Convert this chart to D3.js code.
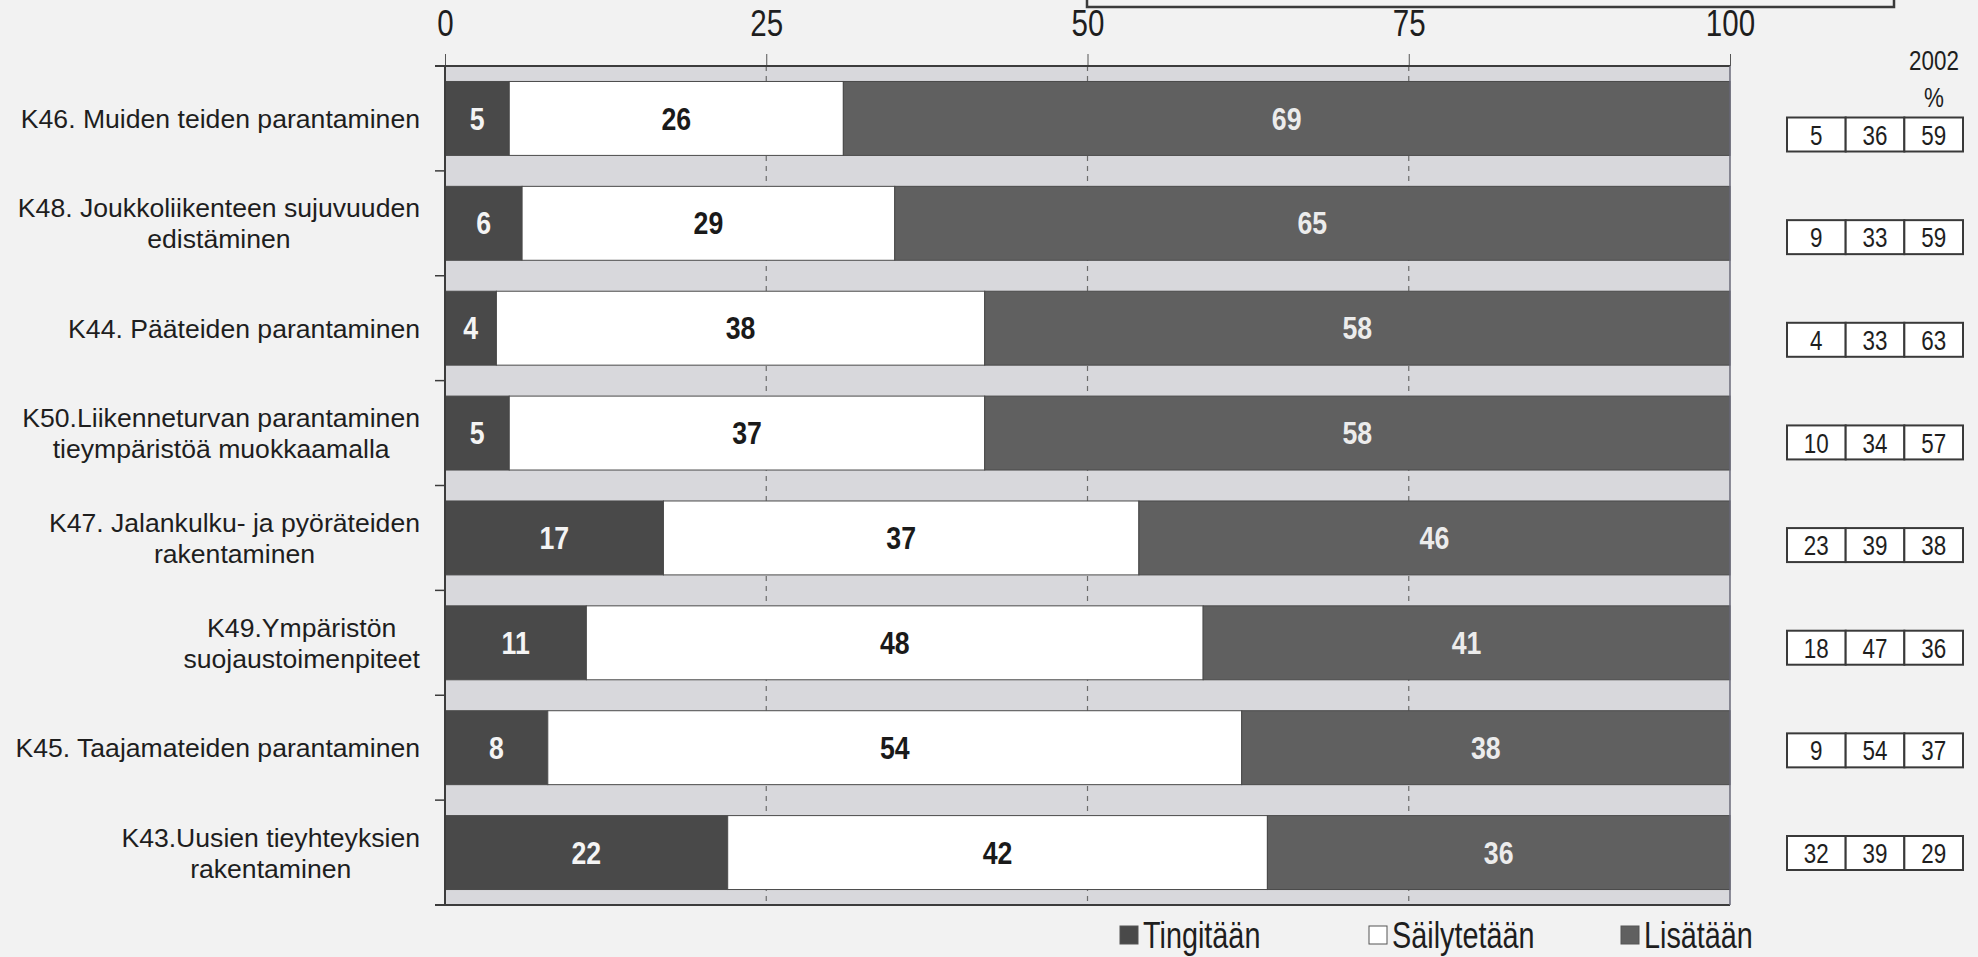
<!DOCTYPE html>
<html>
<head>
<meta charset="utf-8">
<script src="https://cdn.jsdelivr.net/npm/d3@7"></script>
<style>
  body { margin: 0; background: #f2f2f2; }
  text { font-family: "Liberation Sans", Arial, sans-serif; }
</style>
</head>
<body>
<svg id="chart" width="1978" height="957"></svg>
<script>
// categories, top to bottom (lines of each label)
let categories = [
  ["K46. Muiden teiden parantaminen"],
  ["K48. Joukkoliikenteen sujuvuuden", "edistäminen"],
  ["K44. Pääteiden parantaminen"],
  ["K50.Liikenneturvan parantaminen", "tieympäristöä muokkaamalla"],
  ["K47. Jalankulku- ja pyöräteiden", "rakentaminen"],
  ["K49.Ympäristön", "suojaustoimenpiteet"],
  ["K45. Taajamateiden parantaminen"],
  ["K43.Uusien tieyhteyksien", "rakentaminen"]
]
let seriesNames = ["Tingitään", "Säilytetään", "Lisätään"]
let tingitaan = [5, 6, 4, 5, 17, 11, 8, 22]
let sailytetaan = [26, 29, 38, 37, 37, 48, 54, 42]
let lisataan = [69, 65, 58, 58, 46, 41, 38, 36]

// 2002 comparison table
let tingitaan2002 = [5, 9, 4, 10, 23, 18, 9, 32]
let sailytetaan2002 = [36, 33, 33, 34, 39, 47, 54, 39]
let lisataan2002 = [59, 59, 63, 57, 38, 36, 37, 29]
let tableTitle = ["2002", "%"]

let xTicks = [0, 25, 50, 75, 100]

let colors = { "Tingitään": "#494949", "Säilytetään": "#ffffff", "Lisätään": "#606060" }
let labelColors = { "Tingitään": "#f4f4f4", "Säilytetään": "#1a1a1a", "Lisätään": "#ececec" }

// squeeze text horizontally, the original uses a narrow typeface
function condense(sel, f) {
  sel.each(function () {
    let w = this.getComputedTextLength()
    d3.select(this).attr("textLength", w * f).attr("lengthAdjust", "spacingAndGlyphs")
  })
}

let svg = d3.select("#chart")

let rows = categories.map((c, i) => ({
  i: i,
  "Tingitään": tingitaan[i],
  "Säilytetään": sailytetaan[i],
  "Lisätään": lisataan[i]
}))

let x = d3.scaleLinear().domain([0, 100]).range([445, 1730])
let y = d3.scaleBand().domain(d3.range(categories.length))
  .range([66, 905]).paddingInner(0.295).paddingOuter(0.1475)

// frame remnant at the very top
svg.append("path")
  .attr("d", "M1087,0 V7 H1894 V0")
  .attr("fill", "none")
  .attr("stroke", "#3a3a3a")
  .attr("stroke-width", 2.5)

// plot background
svg.append("rect")
  .attr("x", x(0)).attr("y", 66)
  .attr("width", x(100) - x(0)).attr("height", 905 - 66)
  .attr("fill", "#d8d8dc")

// dashed gridlines
svg.append("g").selectAll("line")
  .data([25, 50, 75])
  .join("line")
    .attr("x1", d => x(d)).attr("x2", d => x(d))
    .attr("y1", 66).attr("y2", 905)
    .attr("stroke", "#6c6c6c")
    .attr("stroke-width", 1.2)
    .attr("stroke-dasharray", "5,5")

// stacked bars
let stacked = d3.stack().keys(seriesNames)(rows)

let layers = svg.append("g").selectAll("g")
  .data(stacked)
  .join("g")
    .attr("fill", d => colors[d.key])

layers.selectAll("rect")
  .data(d => d)
  .join("rect")
    .attr("x", d => x(d[0]))
    .attr("y", d => y(d.data.i))
    .attr("width", d => x(d[1]) - x(d[0]))
    .attr("height", y.bandwidth())
    .attr("stroke", "#4a4a4a")
    .attr("stroke-width", 1)

// value labels inside segments
layers.each(function (layer) {
  d3.select(this).selectAll("text")
    .data(layer)
    .join("text")
      .attr("x", d => (x(d[0]) + x(d[1])) / 2)
      .attr("y", d => y(d.data.i) + y.bandwidth() / 2)
      .attr("dy", "0.36em")
      .attr("text-anchor", "middle")
      .attr("fill", labelColors[layer.key])
      .style("font-size", "31px")
      .style("font-weight", "bold")
      .text(d => d.data[layer.key])
      .call(condense, 0.86)
})

// top axis
let xAxis = svg.append("g")
  .attr("transform", "translate(0,66)")
  .call(d3.axisTop(x).tickValues(xTicks).tickSize(12).tickSizeOuter(0).tickPadding(18))
xAxis.select(".domain").remove()
xAxis.selectAll("line").attr("stroke", "#555")
xAxis.selectAll("text")
  .attr("fill", "#1e1e1e")
  .style("font-size", "36px")
  .style("font-family", "\"Liberation Sans\", Arial, sans-serif")
  .call(condense, 0.82)

svg.append("line")
  .attr("x1", 435).attr("x2", x(100))
  .attr("y1", 66).attr("y2", 66)
  .attr("stroke", "#3c3c3c").attr("stroke-width", 2)

// left axis, bottom line, right border
svg.append("line")
  .attr("x1", x(0)).attr("x2", x(0)).attr("y1", 66).attr("y2", 905)
  .attr("stroke", "#3c3c3c").attr("stroke-width", 2)
svg.append("line")
  .attr("x1", 435).attr("x2", x(100)).attr("y1", 905).attr("y2", 905)
  .attr("stroke", "#3c3c3c").attr("stroke-width", 2)
svg.append("line")
  .attr("x1", x(100)).attr("x2", x(100)).attr("y1", 66).attr("y2", 905)
  .attr("stroke", "#6a6a7a").attr("stroke-width", 1.5)

// y ticks at band boundaries
svg.append("g").selectAll("line")
  .data(d3.range(1, categories.length))
  .join("line")
    .attr("x1", 435).attr("x2", x(0))
    .attr("y1", d => y(d) - y.step() * y.paddingInner() / 2)
    .attr("y2", d => y(d) - y.step() * y.paddingInner() / 2)
    .attr("stroke", "#3c3c3c").attr("stroke-width", 1.5)

// category labels: block right aligned, lines centred in block
let labelRight = 420
let lineH = 31
categories.forEach((lines, i) => {
  let g = svg.append("g")
  let texts = g.selectAll("text")
    .data(lines)
    .join("text")
      .attr("y", (d, k) => y(i) + y.bandwidth() / 2 + (k - (lines.length - 1) / 2) * lineH)
      .attr("dy", "0.36em")
      .attr("text-anchor", "middle")
      .attr("fill", "#1e1e1e")
      .style("font-size", "26.6px")
      .text(d => d)
  let maxW = d3.max(texts.nodes(), n => n.getComputedTextLength())
  texts.attr("x", labelRight - maxW / 2)
})

// 2002 table
let tx = d3.scaleBand().domain([0, 1, 2]).range([1787, 1963])
let ty = d3.scaleLinear().domain([0, categories.length - 1]).range([134.5, 853])
let boxH = 34
let tableRows = categories.map((c, i) => [tingitaan2002[i], sailytetaan2002[i], lisataan2002[i]])

let trow = svg.append("g").selectAll("g")
  .data(tableRows)
  .join("g")
    .attr("transform", (d, i) => `translate(0,${ty(i)})`)

trow.selectAll("rect")
  .data(d => d)
  .join("rect")
    .attr("x", (d, k) => tx(k))
    .attr("y", -boxH / 2)
    .attr("width", tx.bandwidth())
    .attr("height", boxH)
    .attr("fill", "#ffffff")
    .attr("stroke", "#3a3a3a")
    .attr("stroke-width", 2)

trow.selectAll("text")
  .data(d => d)
  .join("text")
    .attr("x", (d, k) => tx(k) + tx.bandwidth() / 2)
    .attr("dy", "0.36em")
    .attr("text-anchor", "middle")
    .attr("fill", "#1e1e1e")
    .style("font-size", "28px")
    .text(d => d)
    .call(condense, 0.8)

svg.append("g").selectAll("text")
  .data(tableTitle)
  .join("text")
    .attr("x", 1934)
    .attr("y", (d, k) => 60 + k * 37)
    .attr("dy", "0.36em")
    .attr("text-anchor", "middle")
    .attr("fill", "#1e1e1e")
    .style("font-size", "28px")
    .text(d => d)
    .call(condense, 0.8)

// legend
let legendX = [1120, 1369, 1621]
let legend = svg.append("g").selectAll("g")
  .data(seriesNames)
  .join("g")
    .attr("transform", (d, k) => `translate(${legendX[k]},935)`)

legend.append("rect")
  .attr("x", 0).attr("y", -9)
  .attr("width", 18).attr("height", 18)
  .attr("fill", d => colors[d])
  .attr("stroke", "#555")
  .attr("stroke-width", 1)

legend.append("text")
  .attr("x", 23)
  .attr("dy", "0.36em")
  .attr("fill", "#1e1e1e")
  .style("font-size", "36px")
  .text(d => d)
  .call(condense, 0.8)
</script>
</body>
</html>
